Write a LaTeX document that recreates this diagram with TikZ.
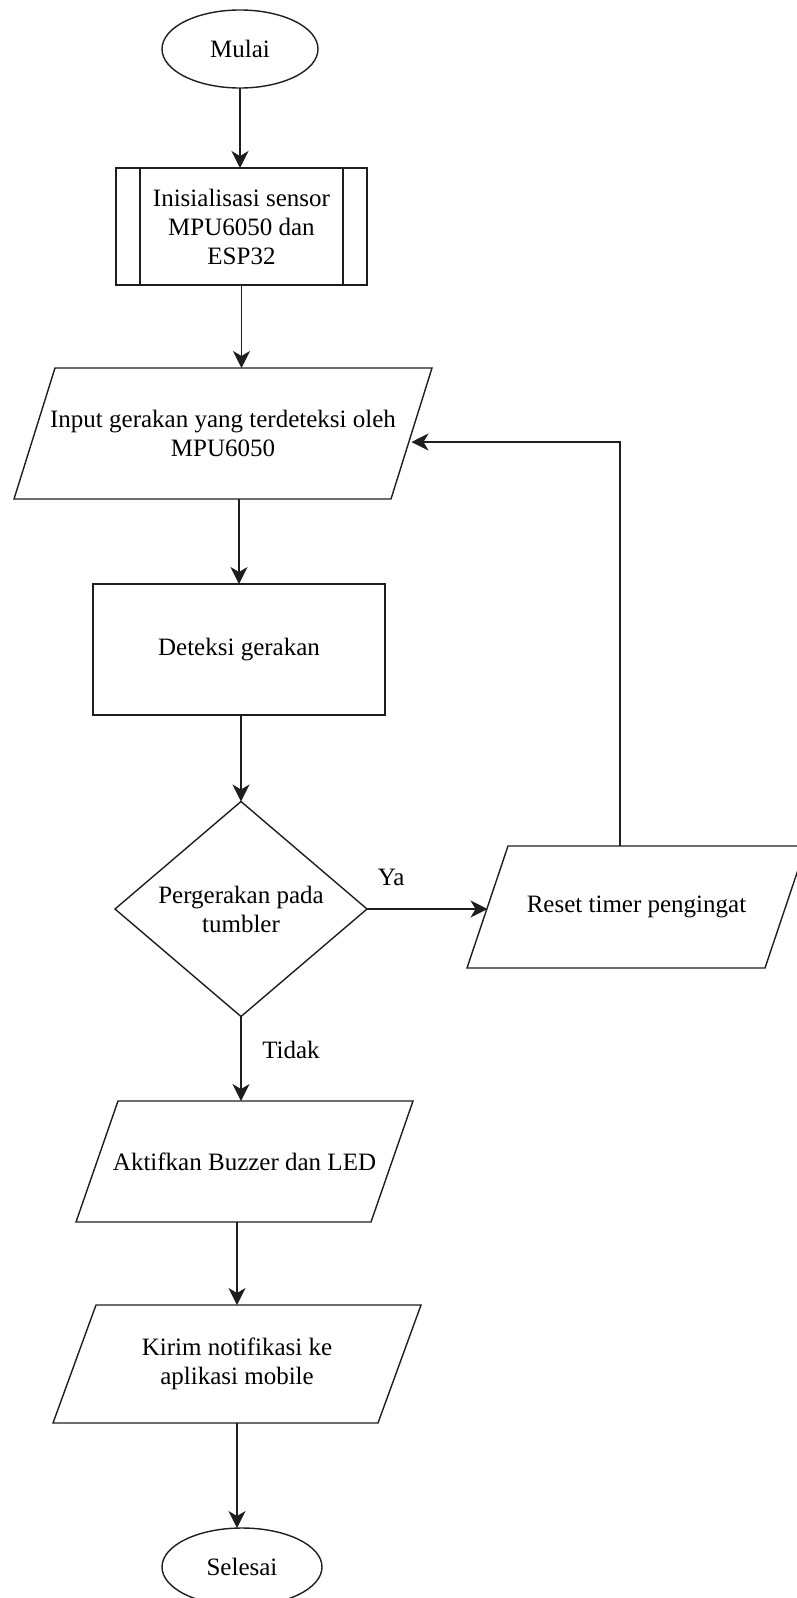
\documentclass[tikz,border=0pt]{standalone}
\usepackage{fontspec}
\setmainfont{Liberation Serif}
\usetikzlibrary{arrows.meta,shapes.geometric}
\definecolor{LineGray}{RGB}{30,30,30}

\tikzset{
  base/.style={draw=LineGray, line width=1.4pt, inner sep=0pt, outer sep=0pt, align=center},
  terminal/.style={base, ellipse, minimum width=156pt, minimum height=78pt},
  procbox/.style={base, rectangle},
  iobody/.style={rectangle, inner sep=0pt, outer sep=0pt, align=center},
  decision/.style={base, diamond, minimum width=252pt, minimum height=215pt},
  flow/.style={draw=LineGray, line width=1.4pt, -{Stealth[length=17pt,width=17pt,inset=5pt]}},
}
% slanted outline round an io body
\newcommand{\ioshape}[2]{%
  \draw[base] ([xshift=#2]#1.north west) -- ([xshift=#2]#1.north east)
    -- ([xshift=-#2]#1.south east) -- ([xshift=-#2]#1.south west) -- cycle;}

\begin{document}
\begin{tikzpicture}[x=1pt,y=-1pt,font=\fontsize{25pt}{29pt}\selectfont]
\useasboundingbox (0,0) rectangle (797,1598);
\node[terminal] (start) at (240,49) {Mulai};
\node[procbox, minimum width=251pt, minimum height=117pt] (init) at (241.5,226.5)
  {Inisialisasi sensor\\MPU6050 dan\\ESP32};
\draw[base] ([xshift=24pt]init.north west) -- ([xshift=24pt]init.south west);
\draw[base] ([xshift=-24pt]init.north east) -- ([xshift=-24pt]init.south east);
\node[iobody, minimum width=377pt, minimum height=131pt] (input) at (223,433.5)
  {Input gerakan yang terdeteksi oleh\\MPU6050};
\ioshape{input}{20.5pt}
\node[procbox, minimum width=292pt, minimum height=131pt] (detect) at (239,649.5) {Deteksi gerakan};
\node[decision] (check) at (241,909) {Pergerakan pada\\tumbler};
\node[iobody, minimum width=298pt, minimum height=122pt] (reset) at (636.5,907) {Reset timer pengingat};
\ioshape{reset}{20.5pt}
\node[iobody, minimum width=295pt, minimum height=121pt] (alarm) at (244.5,1161.5) {Aktifkan Buzzer dan LED};
\ioshape{alarm}{21pt}
\node[iobody, minimum width=325pt, minimum height=118pt] (notify) at (237,1364)
  {Kirim notifikasi ke\\aplikasi mobile};
\ioshape{notify}{21.5pt}
\node[terminal, minimum width=160pt] (finish) at (242,1567) {Selesai};

\draw[flow] (start.south) -- (start.south |- init.north);
\draw[flow] (init.south) -- (init.south |- input.north);
\draw[flow] (detect.north |- input.south) -- (detect.north);
\draw[flow] (check.north |- detect.south) -- (check.north);
\draw[flow] (check.east) -- node[pos=0.2, yshift=32pt] {Ya} (check.east -| reset.west);
\draw[flow] ([xshift=-16.5pt]reset.north) |- ([yshift=-8.5pt]input.east);
\draw[flow] (check.south) -- node[pos=0.4, xshift=50pt] {Tidak} (check.south |- alarm.north);
\draw[flow] (notify.north |- alarm.south) -- (notify.north);
\draw[flow] (notify.south) -- (notify.south |- finish.north);
\end{tikzpicture}
\end{document}
